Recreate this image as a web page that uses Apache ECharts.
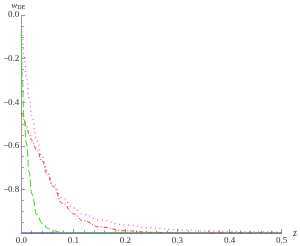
<!DOCTYPE html>
<html>
<head>
<meta charset="utf-8">
<script src="https://cdn.jsdelivr.net/npm/echarts@6/dist/echarts.min.js"></script>
<style>html,body{margin:0;padding:0;background:#fff;}#c{width:300px;height:246px;}</style>
</head>
<body>
<div id="c"></div>
<script>
var zValues = [0, 0.002, 0.005, 0.01, 0.015, 0.02, 0.03, 0.04, 0.05, 0.06, 0.08, 0.1, 0.12, 0.15, 0.2, 0.25, 0.3, 0.35, 0.4, 0.45, 0.5];
var wMagenta = [-0.05, -0.1, -0.18, -0.29, -0.385, -0.46, -0.575, -0.65, -0.715, -0.77, -0.84, -0.885, -0.915, -0.94, -0.963, -0.977, -0.985, -0.99, -0.993, -0.995, -0.996];
var wRed = [-0.45, -0.46, -0.48, -0.51, -0.545, -0.575, -0.62, -0.67, -0.73, -0.785, -0.865, -0.912, -0.945, -0.972, -0.99, -0.997, -1, -1, -1, -1, -1];
var wGreen = [-0.07, -0.3, -0.47, -0.59, -0.72, -0.82, -0.915, -0.955, -0.977, -0.99, -0.998, -1, -1, -1, -1, -1, -1, -1, -1, -1, -1];
var wLambda = [-1, -1, -1, -1, -1, -1, -1, -1, -1, -1, -1, -1, -1, -1, -1, -1, -1, -1, -1, -1, -1];
var xTicks = [0, 0.1, 0.2, 0.3, 0.4, 0.5];
var yTicks = [-1, -0.8, -0.6, -0.4, -0.2, 0];

function pairs(ys) { return zValues.map(function (z, i) { return [z, ys[i]]; }); }
var font = 'Liberation Serif';
var axisGray = '#9a9a9a';

var chart = echarts.init(document.getElementById('c'), null, {renderer: 'canvas'});
chart.setOption({
  animation: false,
  backgroundColor: '#fff',
  grid: {left: 20, right: 17, top: 15, bottom: 13, containLabel: false},
  xAxis: {
    type: 'value', min: xTicks[0], max: xTicks[xTicks.length - 1], interval: 0.1,
    name: 'z', nameLocation: 'end', nameGap: 10,
    nameTextStyle: {fontFamily: font, fontSize: 10, fontStyle: 'italic', color: '#333'},
    axisLine: {show: true, onZero: false, lineStyle: {color: axisGray, width: 1}},
    axisTick: {show: true, inside: true, length: 4, lineStyle: {color: axisGray}},
    minorTick: {show: true, splitNumber: 5, length: 2.5, lineStyle: {color: axisGray}},
    axisLabel: {fontFamily: font, fontSize: 9, color: '#333', margin: 3,
      formatter: function (v) { return v.toFixed(1); }},
    splitLine: {show: false}
  },
  yAxis: {
    type: 'value', min: yTicks[0], max: yTicks[yTicks.length - 1], interval: 0.2,
    name: '{w|w}{s|DE}', nameLocation: 'end', nameGap: 4,
    nameTextStyle: {align: 'right', padding: [0, -4, 0, 0],
      rich: {w: {fontFamily: font, fontSize: 9, fontStyle: 'italic', color: '#333'},
             s: {fontFamily: font, fontSize: 6, color: '#333', verticalAlign: 'bottom', padding: [3, 0, 0, 0]}}},
    axisLine: {show: true, onZero: false, lineStyle: {color: axisGray, width: 1}},
    axisTick: {show: true, inside: true, length: 4, lineStyle: {color: axisGray}},
    minorTick: {show: true, splitNumber: 4, length: 2.5, lineStyle: {color: axisGray}},
    axisLabel: {fontFamily: font, fontSize: 9, color: '#333', margin: 2, showMinLabel: false,
      formatter: function (v) { var s = Math.abs(v).toFixed(1); return v < -1e-9 ? '\u2212' + s : s; }},
    splitLine: {show: false}
  },
  series: [
    {type: 'line', data: pairs(wLambda), symbol: 'none', z: 1,
      lineStyle: {color: '#1c1c80', width: 1.2}},
    {type: 'line', data: pairs(wMagenta), symbol: 'none', smooth: true, smoothMonotone: 'x', z: 3,
      lineStyle: {color: '#ee55ee', width: 1.3, type: [1, 3.5]}},
    {type: 'line', data: pairs(wRed), symbol: 'none', smooth: true, smoothMonotone: 'x', z: 3,
      lineStyle: {color: '#ee3333', width: 1, type: [4, 2, 1, 2]}},
    {type: 'line', data: pairs(wGreen), symbol: 'none', smooth: true, smoothMonotone: 'x', z: 3,
      lineStyle: {color: '#44dd33', width: 1.1, type: [7, 3]}}
  ]
});
</script>
</body>
</html>
